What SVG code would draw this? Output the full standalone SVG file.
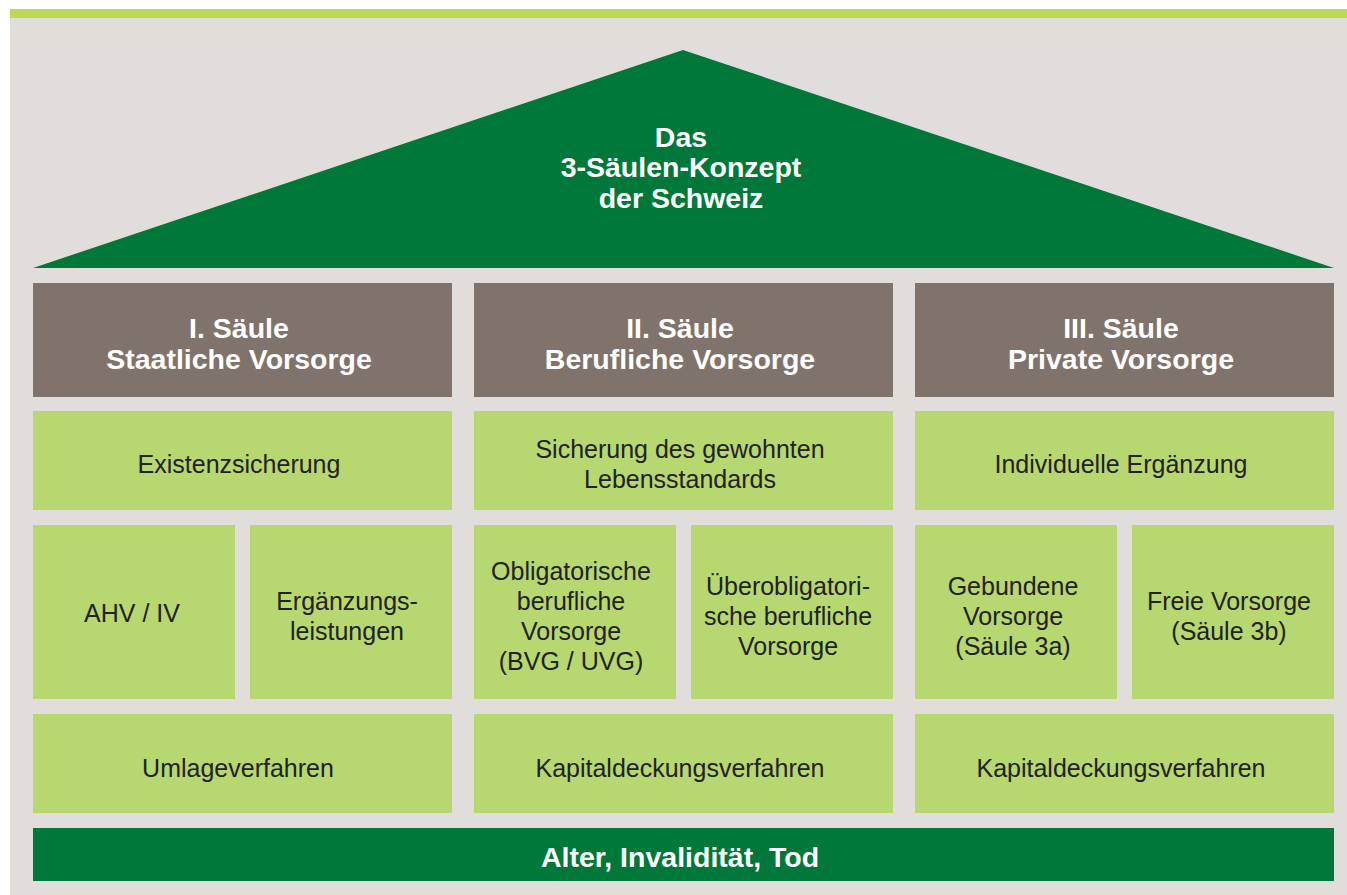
<svg xmlns="http://www.w3.org/2000/svg" width="1347" height="895" viewBox="0 0 1347 895">
<style>
.bg{fill:#E0DDDA}
.top{fill:#BED855}
.dk{fill:#00783A}
.hd{fill:#7F736B}
.lt{fill:#B7D770}
text{font-family:"Liberation Sans","Noto Sans",Arial,sans-serif;text-anchor:middle}
.w{fill:#FFFFFF;font-weight:bold;font-size:28.5px}
.b{fill:#222222;font-size:25px}
</style>
<rect x="0" y="0" width="1347" height="895" fill="#FFFFFF"/>
<rect class="bg" x="10" y="18" width="1337" height="877"/>
<rect class="top" x="10" y="9" width="1337" height="9"/>
<g id="roof">
<polygon class="dk" points="33,268 683,50 1334,268"/>
<text class="w" x="681" y="147">Das</text>
<text class="w" x="681" y="177">3-Säulen-Konzept</text>
<text class="w" x="681" y="208">der Schweiz</text>
</g>
<g id="h1"><rect class="hd" x="33" y="283" width="419" height="114"/>
<text class="w" x="239" y="338">I. Säule</text><text class="w" x="239" y="369">Staatliche Vorsorge</text></g>
<g id="h2"><rect class="hd" x="474" y="283" width="419" height="114"/>
<text class="w" x="680" y="338">II. Säule</text><text class="w" x="680" y="369">Berufliche Vorsorge</text></g>
<g id="h3"><rect class="hd" x="915" y="283" width="419" height="114"/>
<text class="w" x="1121" y="338">III. Säule</text><text class="w" x="1121" y="369">Private Vorsorge</text></g>
<g id="r2a"><rect class="lt" x="33" y="411" width="419" height="99"/>
<text class="b" x="239" y="473">Existenzsicherung</text></g>
<g id="r2b"><rect class="lt" x="474" y="411" width="419" height="99"/>
<text class="b" x="680" y="458">Sicherung des gewohnten</text><text class="b" x="680" y="488">Lebensstandards</text></g>
<g id="r2c"><rect class="lt" x="915" y="411" width="419" height="99"/>
<text class="b" x="1121" y="473">Individuelle Ergänzung</text></g>
<g id="ahv"><rect class="lt" x="33" y="525" width="202" height="174"/>
<text class="b" x="132" y="622">AHV / IV</text></g>
<g id="el"><rect class="lt" x="250" y="525" width="202" height="174"/>
<text class="b" x="347" y="610">Ergänzungs-</text><text class="b" x="347" y="640">leistungen</text></g>
<g id="obl"><rect class="lt" x="474" y="525" width="202" height="174"/>
<text class="b" x="571" y="580">Obligatorische</text><text class="b" x="571" y="610">berufliche</text><text class="b" x="571" y="640">Vorsorge</text><text class="b" x="571" y="670">(BVG / UVG)</text></g>
<g id="ueb"><rect class="lt" x="691" y="525" width="202" height="174"/>
<text class="b" x="788" y="595">Überobligatori-</text><text class="b" x="788" y="625">sche berufliche</text><text class="b" x="788" y="655">Vorsorge</text></g>
<g id="geb"><rect class="lt" x="915" y="525" width="202" height="174"/>
<text class="b" x="1013" y="595">Gebundene</text><text class="b" x="1013" y="625">Vorsorge</text><text class="b" x="1013" y="655">(Säule 3a)</text></g>
<g id="frei"><rect class="lt" x="1132" y="525" width="202" height="174"/>
<text class="b" x="1229" y="610">Freie Vorsorge</text><text class="b" x="1229" y="640">(Säule 3b)</text></g>
<g id="r4a"><rect class="lt" x="33" y="714" width="419" height="99"/>
<text class="b" x="238" y="777">Umlageverfahren</text></g>
<g id="r4b"><rect class="lt" x="474" y="714" width="419" height="99"/>
<text class="b" x="680" y="777">Kapitaldeckungsverfahren</text></g>
<g id="r4c"><rect class="lt" x="915" y="714" width="419" height="99"/>
<text class="b" x="1121" y="777">Kapitaldeckungsverfahren</text></g>
<g id="base"><rect class="dk" x="33" y="828" width="1301" height="53"/>
<text class="w" x="680" y="867">Alter, Invalidität, Tod</text></g>
<g id="connectors"/>
</svg>
